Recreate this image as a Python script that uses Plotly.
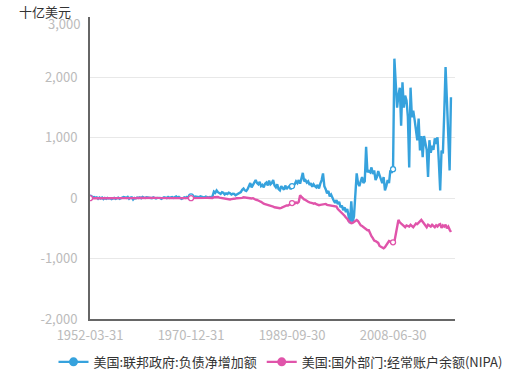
import plotly.graph_objects as go

# ---------------- data ----------------
start_year = 1952
quarter_ends = ["03-31", "06-30", "09-30", "12-31"]

federal_net_liabilities = [
    # 1952-1974
    10, -5, 15, 20, 8, 15, -10, 12, -5, 10, -15, 5, -10, 5, -5, 0,
    -15, -5, 5, -10, -5, 10, -10, 0, 10, 20, 15, 5, 20, -10, 10, 15,
    -20, 5, -5, 10, 5, 15, 0, 20, 10, 5, 15, 10, 5, 10, 0, 15,
    10, -5, 5, 10, 5, -10, 10, 15, 10, 0, 20, 5, 15, 20, 5, 25,
    30, 10, 20, 5, -10, 0, 15, 5, 20, 10, 25, 30, 35, 20, 30, 25,
    25, 15, 30, 20, 20, 10, 25, 15, 10, 20, 15, 35,
    # 1975-1989
    110, 90, 130, 100, 80, 70, 100, 90, 60, 80, 70, 90, 80, 60, 75, 70,
    50, 60, 70, 90, 100, 140, 160, 130, 120, 150, 200, 250,
    180, 220, 280, 300, 250, 230, 270, 200, 220, 180, 240, 260,
    210, 290, 230, 250, 300, 210, 180, 230, 150, 130, 200, 170,
    140, 210, 150, 180, 200, 150, 200, 210,
    # 1990-2008
    230, 280, 250, 300, 240, 330, 420, 280, 300, 260, 280, 220,
    250, 190, 230, 200, 180, 220, 160, 240, 300, 410, 200, 150,
    80, 120, 30, 60, 0, -40, -80, -30, -100, -60, -150, -120,
    -200, -150, -230, -180, -300, -415, -50, -400, -300, 150, 410, 250,
    200, 280, 350, 250, 280, 850, 430, 450, 430, 510, 400, 460,
    300, 350, 450, 380, 300, 250, 350, 130, 200, 300, 250, 460,
    420, 480, 2310, 1900,
    # 2009-2019
    1500, 1700, 1830, 1200, 1920, 1500, 1700, 1620, 1350, 510, 1830, 1340,
    1450, 1300, 1100, 960, 1320, 790, 1030, 680, 1030, 930, 800, 350,
    960, 750, 870, 800, 990, 900, 1010, 600, 130, 790, 740, 1400,
    2170, 1620, 900, 460, 1670,
]

foreign_current_account = [
    # 1952-1974
    0, 2, -1, 1, -2, -1, 0, -1, 0, 1, 1, 0, 0, 1, -1, 0,
    1, 2, 1, 2, 3, 4, 2, 1, 0, 0, -1, -1, -2, -3, -1, -1,
    0, 1, 2, 3, 4, 3, 3, 4, 3, 3, 4, 3, 3, 4, 4, 5,
    6, 6, 5, 6, 4, 4, 4, 3, 2, 2, 1, 2, 2, 1, 2, 1,
    0, 1, 0, 0, 0, 0, -1, 0, 1, 2, 2, 1, 0, -1, -3, -2,
    -5, -6, -5, -4, 0, 2, 5, 8, 5, 0, -2, 3,
    # 1975-1989
    15, 20, 18, 20, 10, 5, 2, 0, -10, -15, -15, -20, -20, -15, -15, -10,
    -5, 0, 0, -5, -5, 5, 15, 10, 15, 10, 5, 0,
    -5, 0, -20, -25, -30, -35, -50, -60, -80, -90, -100, -105,
    -110, -115, -120, -130, -140, -150, -155, -160, -160, -165, -160, -150,
    -130, -125, -120, -120, -110, -100, -80, -90,
    # 1990-2008
    -90, -70, -80, -60, 50, 20, -10, -20, -30, -50, -60, -70,
    -70, -80, -90, -85, -100, -110, -115, -110, -105, -110, -100, -95,
    -110, -115, -120, -115, -125, -130, -135, -140, -180, -200, -230, -240,
    -270, -290, -320, -340, -380, -400, -415, -410, -390, -380, -360, -380,
    -420, -450, -460, -480, -490, -520, -530, -530, -600, -630, -660, -700,
    -710, -720, -740, -790, -800, -820, -830, -810, -770, -740, -710, -720,
    -730, -730, -720, -600,
    # 2009-2019
    -420, -360, -400, -420, -440, -460, -480, -450, -460, -470, -440, -470,
    -480, -450, -420, -430, -400, -380, -360, -390, -420, -460, -480, -440,
    -450, -470, -440, -460, -480, -450, -470, -440, -430, -490, -450, -470,
    -440, -500, -470, -520, -560,
]

n_points = len(federal_net_liabilities)
dates = [f"{start_year + k // 4}-{quarter_ends[k % 4]}" for k in range(n_points)]

x_tick_labels = ["1952-03-31", "1970-12-31", "1989-09-30", "2008-06-30"]
y_ticks = [-2000, -1000, 0, 1000, 2000, 3000]
y_tick_labels = ["-2,000", "-1,000", "0", "1,000", "2,000", "3,000"]

series_names = ["美国:联邦政府:负债净增加额", "美国:国外部门:经常账户余额(NIPA)"]
series_colors = ["#36a2dd", "#e054aa"]
series_values = [federal_net_liabilities, foreign_current_account]

# ---------------- figure ----------------
FONT = "Noto Sans CJK SC"
fig = go.Figure()

# data lines
for name, color, vals in zip(series_names, series_colors, series_values):
    fig.add_trace(go.Scatter(
        x=dates, y=vals, name=name, mode="lines", showlegend=False,
        line=dict(color=color, width=2.4),
    ))

# hollow symbols at the labelled categories
marker_idx = [dates.index(t) for t in x_tick_labels]
for name, color, vals in zip(series_names, series_colors, series_values):
    fig.add_trace(go.Scatter(
        x=[dates[i] for i in marker_idx], y=[vals[i] for i in marker_idx],
        mode="markers", showlegend=False, hoverinfo="skip",
        marker=dict(color="white", size=5, line=dict(color=color, width=1.3)),
    ))

# legend entries
for name, color in zip(series_names, series_colors):
    fig.add_trace(go.Scatter(
        x=[None], y=[None], name=name, mode="lines+markers",
        line=dict(color=color, width=2.4),
        marker=dict(color=color, size=9),
    ))

# the top tick label sits a little below its gridline (room for the unit title)
shown_tick_text = [t if v != y_ticks[-1] else "" for v, t in zip(y_ticks, y_tick_labels)]

fig.update_layout(
    width=517, height=373,
    margin=dict(l=90, r=62, t=17, b=54, autoexpand=False),
    paper_bgcolor="white", plot_bgcolor="white",
    font=dict(family=FONT, size=12, color="#333"),
    showlegend=True,
    legend=dict(orientation="h", x=-0.1, xanchor="left", y=-0.142, yanchor="middle",
                font=dict(size=13, color="#333"), itemwidth=30, tracegroupgap=0,
                bgcolor="rgba(0,0,0,0)"),
    xaxis=dict(
        type="category", categoryorder="array", categoryarray=dates,
        range=[0, 271], tickmode="array", tickvals=x_tick_labels, ticktext=x_tick_labels,
        showgrid=False, showline=True, linecolor="#666", linewidth=2,
        ticks="", tickfont=dict(color="#bbb", size=13), zeroline=False,
        ticklabelstandoff=3,
    ),
    yaxis=dict(
        range=[-2000, 3000], tickmode="array", tickvals=y_ticks, ticktext=shown_tick_text,
        showgrid=True, gridcolor="#e8e8e8", gridwidth=1,
        showline=True, linecolor="#666", linewidth=2, zeroline=False,
        ticks="", tickfont=dict(color="#bbb", size=13), ticklabelstandoff=8,
    ),
    annotations=[
        dict(text="十亿美元", xref="paper", yref="paper", x=-0.197, y=1.0,
             xanchor="left", yanchor="middle", showarrow=False, yshift=6,
             borderpad=0, font=dict(size=13, color="#333", family=FONT)),
        dict(text=y_tick_labels[-1], xref="paper", yref="y", x=0, y=y_ticks[-1],
             xanchor="right", yanchor="middle", xshift=-9, yshift=-6, showarrow=False,
             borderpad=0, font=dict(size=13, color="#bbb", family=FONT)),
    ],
)

fig.write_html("out.html", config={"displayModeBar": False},
               post_script="document.body.style.margin='0';")
